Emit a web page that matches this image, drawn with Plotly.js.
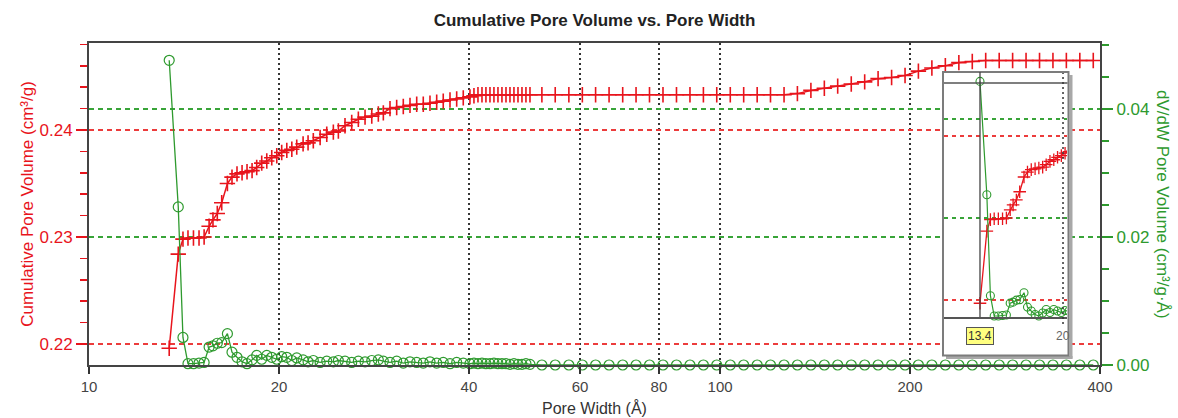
<!DOCTYPE html>
<html>
<head>
<meta charset="utf-8">
<script src="https://cdn.plot.ly/plotly-3.0.1.min.js"></script>
<style>
  html, body { margin: 0; padding: 0; background: #ffffff; }
  #chart { width: 1178px; height: 418px; }
</style>
</head>
<body>
<div id="chart"></div>
<script>
// ---------------- data ----------------
var poreWidth = [
  13.40, 13.85, 14.09, 14.35, 14.64, 14.94, 15.22, 15.50, 15.72, 15.97,
  16.23, 16.57, 16.85, 17.16, 17.48, 17.80, 18.13, 18.44, 18.78, 19.13,
  19.48, 19.84, 20.20, 20.58, 20.96, 21.34, 21.84, 22.24, 22.67, 23.24,
  23.81, 24.39, 24.84, 25.45, 26.08, 26.72, 27.38, 28.06, 28.74, 29.27,
  29.99, 30.73, 31.48, 32.26, 33.06, 33.86, 34.70, 35.56, 36.42, 37.33,
  38.25, 39.18, 40.15, 40.74, 41.34, 41.95, 42.56, 43.19, 43.82, 44.47,
  45.12, 45.79, 46.46, 47.14, 47.84, 48.54, 49.25, 49.98,
  52.2, 54.8, 57.6, 60.5, 63.5, 66.7, 70.1, 73.6, 77.3, 81.2,
  85.3, 89.6, 94.1, 98.8, 103.8, 109.0, 114.5, 120.2, 126.3, 132.6,
  139.3, 146.3, 153.6, 161.4, 169.5, 178.0, 187.0, 196.4, 206.2, 216.6,
  227.5, 239.0, 251.0, 263.6, 276.9, 290.8, 305.4, 320.8, 336.9, 353.8,
  371.6, 390.3
];

var cumulativeVolume = [
  0.2196, 0.2284, 0.2298, 0.2299, 0.2299, 0.2299, 0.2300, 0.2310, 0.2316, 0.2322,
  0.2332, 0.2350, 0.2356, 0.2359, 0.2360, 0.2361, 0.2362, 0.2365, 0.2369, 0.2371,
  0.2374, 0.2376, 0.2379, 0.2381, 0.2382, 0.2384, 0.2387, 0.2388, 0.2390, 0.2393,
  0.2396, 0.2398, 0.2399, 0.2404, 0.2407, 0.2410, 0.2412, 0.2413, 0.2415, 0.2416,
  0.2420, 0.2421, 0.2422, 0.2423, 0.2424, 0.2424, 0.2425, 0.2426, 0.2427, 0.2428,
  0.2429, 0.2430, 0.2431, 0.2432, 0.2433, 0.2433, 0.2433, 0.2433, 0.2433, 0.2433,
  0.2433, 0.2433, 0.2433, 0.2433, 0.2433, 0.2433, 0.2433, 0.2433,
  0.2433, 0.2433, 0.2433, 0.2433, 0.2433, 0.2433, 0.2433, 0.2433, 0.2433, 0.2433,
  0.2433, 0.2433, 0.2433, 0.2433, 0.2433, 0.2433, 0.2433, 0.2433, 0.2433, 0.2434,
  0.2437, 0.2439, 0.2441, 0.2443, 0.2445, 0.2448, 0.2449, 0.2451, 0.2455, 0.2458,
  0.2460, 0.2463, 0.2464, 0.2465, 0.2465, 0.2465, 0.2465, 0.2465, 0.2465, 0.2465,
  0.2465, 0.2465
];

var dVdW = [
  0.0476, 0.0247, 0.0043, 0.0002, 0.0002, 0.0003, 0.0004, 0.0028, 0.0030, 0.0034,
  0.0035, 0.0049, 0.0020, 0.0012, 0.0005, 0.0002, 0.0008, 0.0015, 0.0009, 0.0015,
  0.0012, 0.0009, 0.0013, 0.0012, 0.0007, 0.0011, 0.0008, 0.0005, 0.0007, 0.0004,
  0.0006, 0.0005, 0.0007, 0.0006, 0.0004, 0.0006, 0.0005, 0.0007, 0.0008, 0.0006,
  0.0004, 0.0006, 0.0003, 0.0005, 0.0004, 0.0003, 0.0005, 0.0003, 0.0004, 0.0002,
  0.0004, 0.0003, 0.0002, 0.0003, 0.0002, 0.0003, 0.0002, 0.0002, 0.0003, 0.0002,
  0.0002, 0.0002, 0.0001, 0.0002, 0.0001, 0.0001, 0.0002, 0.0001,
  0, 0, 0, 0, 0, 0, 0, 0, 0, 0,
  0, 0, 0, 0, 0, 0, 0, 0, 0, 0,
  0, 0, 0, 0, 0, 0, 0, 0, 0, 0,
  0, 0, 0, 0, 0, 0, 0, 0, 0, 0,
  0, 0
];

var xTickVals = [10, 20, 40, 60, 80, 100, 200, 400];
var xTickText = ['10', '20', '40', '60', '80', '100', '200', '400'];
var leftTickVals = [0.22, 0.23, 0.24];
var rightTickVals = [0.00, 0.02, 0.04];
var insetRightTickVals = [0.02, 0.04];
var cursorWidth = 13.4;
var insetTickWidth = 20;

// ---------------- styles ----------------
var RED = 'rgb(232,20,28)';
var GREEN = 'rgb(46,154,46)';
var RED_GRID = 'rgb(236,60,60)';
var GREEN_GRID = 'rgb(56,164,56)';
var FONT = 'Liberation Sans, Arial, Helvetica, sans-serif';
var AXIS = '#444444';

// pixel helpers (layout geometry only)
var L = 89, R = 1100, T = 43, B = 365;
function px(x) { return (x - L) / (R - L); }
function py(y) { return (B - y) / (B - T); }

var traces = [
  {
    x: poreWidth, y: cumulativeVolume, xaxis: 'x', yaxis: 'y',
    type: 'scatter', mode: 'lines+markers', cliponaxis: false,
    line: { color: RED, width: 1.5 },
    marker: { symbol: 'cross-thin-open', size: 11, color: RED, line: { color: RED, width: 1.6 } },
    hoverinfo: 'skip'
  },
  {
    x: poreWidth, y: dVdW, xaxis: 'x', yaxis: 'y2',
    type: 'scatter', mode: 'lines+markers', cliponaxis: false,
    line: { color: GREEN, width: 1.3 },
    marker: { symbol: 'circle-open', size: 10, color: GREEN, line: { color: GREEN, width: 1.2 } },
    hoverinfo: 'skip'
  },
  {
    x: poreWidth, y: cumulativeVolume, xaxis: 'x2', yaxis: 'y3',
    type: 'scatter', mode: 'lines+markers', cliponaxis: true,
    line: { color: RED, width: 1.3 },
    marker: { symbol: 'cross-thin-open', size: 9, color: RED, line: { color: RED, width: 1.3 } },
    hoverinfo: 'skip'
  },
  {
    x: poreWidth, y: dVdW, xaxis: 'x2', yaxis: 'y4',
    type: 'scatter', mode: 'lines+markers', cliponaxis: true,
    line: { color: GREEN, width: 1.2 },
    marker: { symbol: 'circle-open', size: 8, color: GREEN, line: { color: GREEN, width: 1.1 } },
    hoverinfo: 'skip'
  }
];

var layout = {
  width: 1178, height: 418,
  margin: { l: L, r: 1178 - R, t: T, b: 418 - B, pad: 0 },
  paper_bgcolor: '#ffffff', plot_bgcolor: '#ffffff',
  showlegend: false,
  font: { family: FONT, size: 16, color: '#333' },
  title: {
    text: 'Cumulative Pore Volume vs. Pore Width',
    font: { family: FONT, size: 17, color: '#222', weight: 'bold' },
    xref: 'paper', x: 0.5, xanchor: 'center',
    yref: 'container', y: 1 - 20 / 418, yanchor: 'middle'
  },
  xaxis: {
    type: 'log', range: [1, Math.log10(400)], domain: [0, 1], anchor: 'y',
    tickmode: 'array', tickvals: xTickVals, ticktext: xTickText,
    ticks: 'outside', ticklen: 7, tickwidth: 1.5, tickcolor: '#333',
    tickfont: { family: FONT, size: 15, color: '#444' },
    showline: true, linecolor: AXIS, linewidth: 2, mirror: true,
    showgrid: true, gridcolor: '#333333', gridwidth: 1.6, griddash: '2px,3px',
    zeroline: false, automargin: false,
    title: { text: 'Pore Width (Å)', font: { family: FONT, size: 16, color: '#333' }, standoff: 9 }
  },
  yaxis: {
    range: [0.218037, 0.248131], domain: [0, 1], anchor: 'x',
    tickmode: 'array', tickvals: leftTickVals, tickformat: '.2f',
    ticks: 'outside', ticklen: 11, tickwidth: 1.5, tickcolor: RED,
    minor: { dtick: 0.002, ticks: 'outside', ticklen: 7, tickwidth: 1.5, tickcolor: RED,
             showgrid: false, gridcolor: RED_GRID },
    tickfont: { family: FONT, size: 17, color: RED },
    showline: true, linecolor: AXIS, linewidth: 2,
    showgrid: true, gridcolor: RED_GRID, gridwidth: 1.4, griddash: '5px,4px',
    zeroline: false, automargin: false,
    title: { text: 'Cumulative Pore Volume (cm³/g)', font: { family: FONT, size: 17, color: RED }, standoff: 2 }
  },
  yaxis2: {
    overlaying: 'y', side: 'right', anchor: 'x',
    range: [0, 0.0503],
    tickmode: 'array', tickvals: rightTickVals, tickformat: '.2f',
    ticks: 'outside', ticklen: 11, tickwidth: 1.5, tickcolor: GREEN,
    minor: { dtick: 0.005, ticks: 'outside', ticklen: 7, tickwidth: 1.5, tickcolor: GREEN,
             showgrid: false, gridcolor: GREEN_GRID },
    tickfont: { family: FONT, size: 17, color: GREEN },
    showline: true, linecolor: AXIS, linewidth: 2,
    showgrid: true, gridcolor: GREEN_GRID, gridwidth: 1.4, griddash: '5px,4px',
    zeroline: false, automargin: false
  },
  // inset
  xaxis2: {
    type: 'log', range: [1.0517, 1.3094], domain: [px(944), px(1067)],
    anchor: 'free', position: py(317),
    showline: true, linecolor: '#555555', linewidth: 1.5,
    ticks: '', showticklabels: false, showgrid: false, zeroline: false
  },
  yaxis3: {
    range: [0.21329, 0.24768], domain: [py(355), py(73)], anchor: 'x2',
    tickmode: 'array', tickvals: leftTickVals,
    ticks: '', showticklabels: false, showline: false, zeroline: false,
    showgrid: true, gridcolor: RED_GRID, gridwidth: 1.3, griddash: '4px,4px'
  },
  yaxis4: {
    overlaying: 'y3', side: 'right', anchor: 'x2',
    range: [-0.007677, 0.049293],
    tickmode: 'array', tickvals: insetRightTickVals,
    ticks: '', showticklabels: false, showline: false, zeroline: false,
    showgrid: true, gridcolor: GREEN_GRID, gridwidth: 1.3, griddash: '4px,4px'
  },
  shapes: [
    // inset shadow
    { type: 'line', layer: 'above', xref: 'paper', yref: 'paper',
      x0: px(1071), x1: px(1071), y0: py(75), y1: py(358.5), line: { color: '#a8a8a8', width: 3 } },
    { type: 'line', layer: 'above', xref: 'paper', yref: 'paper',
      x0: px(946), x1: px(1072.5), y0: py(357.5), y1: py(357.5), line: { color: '#a8a8a8', width: 3 } },
    // inset border
    { type: 'rect', layer: 'above', xref: 'paper', yref: 'paper',
      x0: px(943), x1: px(1068.5), y0: py(355.5), y1: py(72), line: { color: '#7c7c7c', width: 2 } },
    // inset top frame line
    { type: 'line', layer: 'above', xref: 'paper', yref: 'paper',
      x0: px(944), x1: px(1067.5), y0: py(83), y1: py(83), line: { color: '#555555', width: 1.5 } },
    // cursor line at 13.4
    { type: 'line', layer: 'above', xref: 'x2', yref: 'paper',
      x0: cursorWidth, x1: cursorWidth, y0: py(317), y1: py(72), line: { color: '#444444', width: 1.3 } },
    // inset dotted line at 20
    { type: 'line', layer: 'above', xref: 'x2', yref: 'paper',
      x0: insetTickWidth, x1: insetTickWidth, y0: py(324), y1: py(73), line: { color: '#333333', width: 1.5, dash: '2px,3px' } }
  ],
  annotations: [
    { xref: 'paper', yref: 'paper', x: px(1163), y: 0.5, xanchor: 'center', yanchor: 'middle',
      text: 'dV/dW Pore Volume (cm³/g·Å)', textangle: 90, showarrow: false,
      font: { family: FONT, size: 17, color: GREEN } },
    { xref: 'x2', yref: 'paper', x: Math.log10(cursorWidth), y: py(335.5), xanchor: 'center', yanchor: 'middle',
      text: '13.4', showarrow: false, bgcolor: '#ffff80', bordercolor: '#555555', borderwidth: 1, borderpad: 1,
      font: { family: FONT, size: 12, color: '#333' } },
    { xref: 'x2', yref: 'paper', x: Math.log10(insetTickWidth), y: py(335.5), xanchor: 'center', yanchor: 'middle',
      text: '20', showarrow: false,
      font: { family: FONT, size: 12, color: '#666' } }
  ]
};

Plotly.newPlot('chart', traces, layout, { staticPlot: true, displayModeBar: false });
</script>
</body>
</html>
